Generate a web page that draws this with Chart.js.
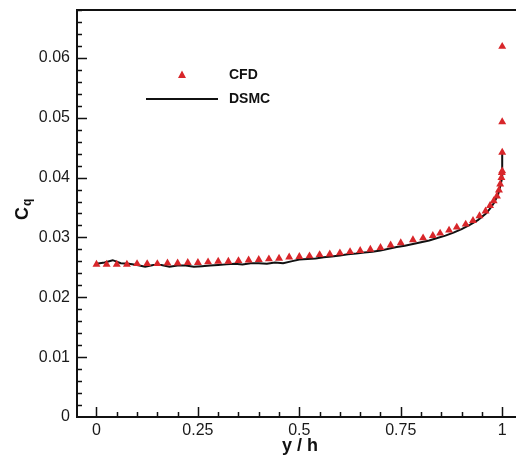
<!DOCTYPE html>
<html>
<head>
<meta charset="utf-8">
<script src="https://cdn.jsdelivr.net/npm/chart.js@4.4.1/dist/chart.umd.min.js"></script>
<style>
  html, body { margin: 0; padding: 0; background: #fff; }
  #wrap { width: 516px; height: 463px; position: relative; }
</style>
</head>
<body>
<div id="wrap"><canvas id="cq"></canvas></div>
<script>
// ---- data ----
const cfdX = [0, 0.025, 0.05, 0.075, 0.1, 0.125, 0.15, 0.175, 0.2, 0.225, 0.25, 0.275, 0.3, 0.325, 0.35, 0.375,
  0.4, 0.425, 0.45, 0.475, 0.5, 0.525, 0.55, 0.575, 0.6, 0.625, 0.65, 0.675, 0.7, 0.725, 0.75,
  0.78, 0.805, 0.829, 0.847, 0.869, 0.888, 0.91, 0.928, 0.944, 0.959, 0.97, 0.979, 0.987, 0.992, 0.995, 0.998, 0.999,
  1, 1, 1, 1];
const cfdY = [0.0255, 0.0255, 0.0255, 0.0255, 0.0256, 0.0256, 0.0256, 0.0257, 0.0257, 0.0258, 0.0258, 0.0259, 0.026, 0.026, 0.0261, 0.0262,
  0.0263, 0.0264, 0.0265, 0.0267, 0.0268, 0.0269, 0.0271, 0.0272, 0.0274, 0.0276, 0.0278, 0.028, 0.0283, 0.0287, 0.0291,
  0.0296, 0.0299, 0.0303, 0.0307, 0.0312, 0.0317, 0.0322, 0.0328, 0.0336, 0.0344, 0.0353, 0.0361, 0.0369, 0.0379, 0.0389, 0.04, 0.0408,
  0.0411, 0.0442, 0.0493, 0.0619];

const dsmcX = [0, 0.02, 0.04, 0.06, 0.08, 0.1, 0.12, 0.14, 0.16, 0.18, 0.2, 0.22, 0.24, 0.26, 0.28, 0.3, 0.32, 0.34, 0.36, 0.38,
  0.4, 0.42, 0.44, 0.46, 0.48, 0.5, 0.52, 0.54, 0.56, 0.58, 0.6, 0.62, 0.64, 0.66, 0.68, 0.7, 0.72, 0.74, 0.76, 0.78,
  0.8, 0.82, 0.84, 0.86, 0.88, 0.9, 0.92, 0.94, 0.96, 0.97, 0.98, 0.99, 0.995, 1, 1];
const dsmcY = [0.0256, 0.0258, 0.0262, 0.0257, 0.0256, 0.0254, 0.0251, 0.0254, 0.0254, 0.0251, 0.0253, 0.0253, 0.0251, 0.0252, 0.0253, 0.0254, 0.0255, 0.0256, 0.0255, 0.0257,
  0.0257, 0.0256, 0.0258, 0.0257, 0.026, 0.0263, 0.0264, 0.0265, 0.0267, 0.0268, 0.027, 0.0272, 0.0273, 0.0275, 0.0276, 0.0278, 0.0281, 0.0284, 0.0286, 0.0289,
  0.0292, 0.0295, 0.0299, 0.0303, 0.0308, 0.0314, 0.0321, 0.0329, 0.034, 0.0348, 0.0358, 0.0372, 0.0385, 0.04, 0.0446];

const xTicks = [0, 0.25, 0.5, 0.75, 1];
const xTickLabels = ['0', '0.25', '0.5', '0.75', '1'];
const yTicks = [0, 0.01, 0.02, 0.03, 0.04, 0.05, 0.06];
const yTickLabels = ['0', '0.01', '0.02', '0.03', '0.04', '0.05', '0.06'];
const xMinorStep = 0.05;
const yMinorStep = 0.002;

const RED = '#d8262a';
const FONT = '"Liberation Sans", Arial, sans-serif';

function toPoints(xs, ys) {
  return xs.map((x, i) => ({ x: x, y: ys[i] }));
}

// axes frame, inward ticks, legend and axis titles
const framePlugin = {
  id: 'frame',
  afterDraw(chart) {
    const ctx = chart.ctx;
    const a = chart.chartArea;
    const sx = chart.scales.x, sy = chart.scales.y;
    ctx.save();
    ctx.strokeStyle = '#111';
    ctx.lineWidth = 2;
    ctx.beginPath();
    ctx.moveTo(a.left, a.top); ctx.lineTo(a.right, a.top);
    ctx.moveTo(a.left, a.top - 1); ctx.lineTo(a.left, a.bottom + 1);
    ctx.moveTo(a.left - 1, a.bottom); ctx.lineTo(a.right, a.bottom);
    ctx.stroke();

    // x ticks
    ctx.lineWidth = 1.5;
    ctx.beginPath();
    for (let v = -0.05; v <= 1.0001; v += xMinorStep) {
      const px = Math.round(sx.getPixelForValue(v)) + 0.5;
      if (px < a.left + 2) continue;
      const major = xTicks.some(t => Math.abs(t - v) < 1e-6);
      ctx.moveTo(px, a.bottom);
      ctx.lineTo(px, a.bottom - (major ? 10 : 5));
    }
    // y ticks
    for (let v = 0; v <= 0.0681; v += yMinorStep) {
      const py = Math.round(sy.getPixelForValue(v)) + 0.5;
      if (py > a.bottom - 2) continue;
      const major = yTicks.some(t => Math.abs(t - v) < 1e-6);
      ctx.moveTo(a.left, py);
      ctx.lineTo(a.left + (major ? 10 : 5), py);
    }
    ctx.stroke();

    // legend
    ctx.fillStyle = RED;
    ctx.beginPath();
    ctx.moveTo(182, 70.5); ctx.lineTo(186, 78); ctx.lineTo(178, 78); ctx.closePath();
    ctx.fill();
    ctx.strokeStyle = '#111';
    ctx.lineWidth = 2;
    ctx.beginPath();
    ctx.moveTo(146, 99); ctx.lineTo(218, 99);
    ctx.stroke();
    ctx.fillStyle = '#111';
    ctx.font = 'bold 14px ' + FONT;
    ctx.textBaseline = 'middle';
    ctx.textAlign = 'left';
    ctx.fillText('CFD', 229, 75);
    ctx.fillText('DSMC', 229, 99);

    // x title
    ctx.font = 'bold 18px ' + FONT;
    ctx.textAlign = 'center';
    ctx.fillText('y / h', 300, 446);

    // y title, rotated, with subscript
    ctx.translate(23, 212);
    ctx.rotate(-Math.PI / 2);
    ctx.textAlign = 'left';
    ctx.font = 'bold 18px ' + FONT;
    const cw = ctx.measureText('C').width;
    ctx.fillText('C', -8, 0);
    ctx.font = 'bold 12px ' + FONT;
    ctx.fillText('q', -8 + cw + 1, 5);
    ctx.restore();
  }
};

const chart = new Chart(document.getElementById('cq'), {
  type: 'scatter',
  data: {
    datasets: [
      {
        label: 'DSMC',
        data: toPoints(dsmcX, dsmcY),
        showLine: true,
        borderColor: '#111',
        borderWidth: 2,
        pointRadius: 0,
        tension: 0,
        order: 2
      },
      {
        label: 'CFD',
        data: toPoints(cfdX, cfdY),
        pointStyle: 'triangle',
        pointRadius: 4.6,
        backgroundColor: RED,
        borderColor: RED,
        borderWidth: 0,
        order: 1
      }
    ]
  },
  options: {
    responsive: true,
    maintainAspectRatio: false,
    animation: false,
    layout: { autoPadding: false, padding: { left: 0, top: 10, right: 0, bottom: 0 } },
    plugins: { legend: { display: false }, tooltip: { enabled: false } },
    scales: {
      x: {
        type: 'linear',
        min: -0.048,
        max: 1.034,
        grid: { display: false, drawTicks: false },
        border: { display: false },
        afterBuildTicks: (s) => { s.ticks = xTicks.map(v => ({ value: v })); },
        afterFit: (s) => { s.height = 46; s.paddingLeft = 0; s.paddingRight = 0; },
        ticks: {
          padding: 4,
          color: '#1a1a1a',
          font: { family: FONT, size: 16 },
          maxRotation: 0,
          callback: (v) => xTickLabels[xTicks.indexOf(v)]
        }
      },
      y: {
        type: 'linear',
        min: 0,
        max: 0.068,
        grid: { display: false, drawTicks: false },
        border: { display: false },
        afterBuildTicks: (s) => { s.ticks = yTicks.map(v => ({ value: v })); },
        afterFit: (s) => { s.width = 77; s.paddingTop = 0; s.paddingBottom = 0; },
        ticks: {
          padding: 7,
          color: '#1a1a1a',
          font: { family: FONT, size: 16 },
          callback: (v) => yTickLabels[yTicks.indexOf(v)]
        }
      }
    }
  },
  plugins: [framePlugin]
});
</script>
</body>
</html>
